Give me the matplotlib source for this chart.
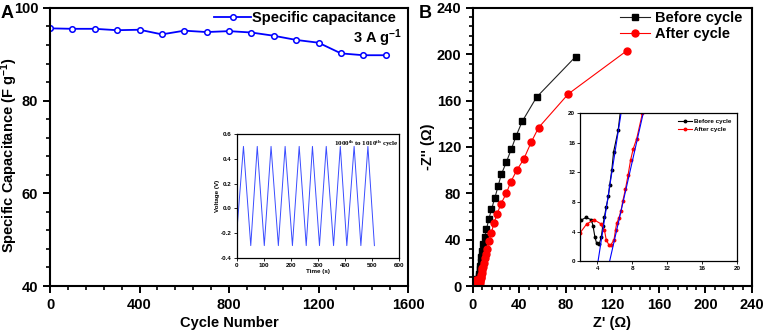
#!/usr/bin/env python3
"""plot.py -- cycling stability (A) and Nyquist plots before/after cycling (B)."""

import numpy as np
import matplotlib
matplotlib.use("Agg")
import matplotlib.pyplot as plt
from matplotlib.ticker import MultipleLocator, FormatStrFormatter

plt.rcParams["font.family"] = ["Liberation Sans", "DejaVu Sans"]
plt.rcParams["font.weight"] = "bold"
plt.rcParams["mathtext.default"] = "regular"
plt.rcParams["axes.unicode_minus"] = False

# ---- Panel A: specific capacitance vs cycle number
cycles = [0, 100, 200, 300, 400, 500, 600, 700, 800, 900, 1000, 1100, 1200, 1300, 1400, 1500]
capac = [95.6, 95.5, 95.5, 95.2, 95.3, 94.3, 95.1, 94.8, 95.0, 94.7, 94.0, 93.1, 92.5, 90.2, 89.8, 89.8]

# inset A: GCD turning points, 1000th-1010th cycle
gcd_t = [0, 25, 52, 76, 102, 127, 154, 179, 206, 231, 257, 280, 306, 331, 358, 383,
         407, 434, 459, 485, 509]
gcd_v = [-0.2, 0.5, -0.3, 0.5, -0.3, 0.5, -0.3, 0.5, -0.3, 0.5, -0.3, 0.5, -0.3, 0.5,
         -0.3, 0.5, -0.3, 0.5, -0.3, 0.5, -0.3]

# ---- Panel B: Nyquist data
before_x = [1.2, 2.07, 2.67, 3.3, 3.5, 3.7, 3.9, 4.2, 4.45, 4.6, 4.8, 5.0, 5.25, 5.4, 5.65,
            5.85, 6.37, 6.7, 7.0, 7.4, 8.8, 10.2, 11.6, 13.6, 15.9, 18.7, 21.6, 24.4, 28.7,
            32.9, 37.2, 42.3, 54.7, 88.3]
before_y = [4.2, 5.5, 5.9, 5.6, 4.7, 3.3, 2.4, 2.3, 3.3, 4.7, 6.0, 7.3, 8.75, 10.3, 12.4,
            14.8, 17.7, 21.0, 25.0, 30.2, 36.0, 42.0, 49.2, 57.6, 66.2, 75.7, 86.3, 96.4, 107.0,
            118.0, 129.8, 142.0, 163.0, 198.0]
after_x = [1.2, 2.0, 2.75, 3.6, 4.45, 4.8, 5.0, 5.3, 5.55, 5.9, 6.07, 6.2, 6.45, 6.7, 6.9,
           7.2, 7.5, 7.8, 8.1, 8.5, 9.15, 10.3, 11.2, 12.2, 13.9, 15.9, 17.9, 20.7, 23.8,
           28.7, 32.3, 37.7, 43.7, 50.0, 56.4, 82.0, 132.2]
after_y = [2.6, 3.8, 5.0, 5.6, 5.0, 4.2, 2.9, 2.2, 2.2, 2.9, 4.2, 5.1, 5.8, 6.8, 8.1,
           9.7, 11.6, 13.7, 15.2, 16.6, 20.0, 24.0, 28.0, 31.7, 39.1, 46.0, 54.1, 61.9, 70.5,
           80.0, 89.5, 100.0, 109.6, 124.0, 136.7, 165.8, 203.0]

# linear fits of the low-frequency tails (inset B)
fit_before_x = [4.07, 6.7]
fit_before_y = [0, 20]
fit_after_x = [5.4, 9.24]
fit_after_y = [0, 20]

C_BLUE = "#0000ff"
C_RED = "#ff0000"
FS = 10.5
FS_IN = 4.5


def style_main(ax):
    for sp in ax.spines.values():
        sp.set_linewidth(1.5)
    ax.tick_params(which="major", direction="out", length=5, width=1.4,
                   labelsize=FS, top=False, right=False)
    ax.tick_params(which="minor", direction="out", length=2.8, width=1.2,
                   top=False, right=False)


def style_inset(ax):
    for sp in ax.spines.values():
        sp.set_linewidth(0.9)
    ax.tick_params(which="major", direction="out", length=2, width=0.6,
                   labelsize=FS_IN, pad=1.5)
    ax.tick_params(which="minor", direction="out", length=1, width=0.5)


fig = plt.figure(figsize=(7.65, 3.33), dpi=100)

# ---------------- Panel A
axA = fig.add_axes([0.0654, 0.1411, 0.468, 0.835])
axA.plot(cycles, capac, color=C_BLUE, lw=1.3, marker="o", ms=4,
         mfc="white", mec=C_BLUE, mew=1.1, label="Specific capacitance")
axA.set_xlim(0, 1600)
axA.set_ylim(40, 100)
axA.xaxis.set_major_locator(MultipleLocator(400))
axA.xaxis.set_minor_locator(MultipleLocator(80))
axA.yaxis.set_major_locator(MultipleLocator(20))
axA.yaxis.set_minor_locator(MultipleLocator(4))
style_main(axA)
axA.set_xlabel("Cycle Number", fontsize=FS, fontweight="bold", labelpad=3)
axA.set_ylabel("Specific Capacitance (F g$^{-1}$)", fontsize=FS, fontweight="bold")
axA.yaxis.set_label_coords(-0.083, 0.47)
axA.legend(loc="upper right", bbox_to_anchor=(0.975, 1.0), frameon=False,
           fontsize=FS, handlelength=2.5, handletextpad=0.1, borderpad=0.2,
           borderaxespad=0)
axA.text(0.983, 0.89, "3 A g$^{-1}$", transform=axA.transAxes, ha="right",
         va="center", fontsize=FS, fontweight="bold")

# inset A
inA = fig.add_axes([0.3094, 0.2252, 0.2122, 0.3724])
inA.plot(gcd_t, gcd_v, color="#3a4cff", lw=0.7)
inA.set_xlim(0, 600)
inA.set_ylim(-0.4, 0.6)
inA.xaxis.set_major_locator(MultipleLocator(100))
inA.yaxis.set_major_locator(MultipleLocator(0.2))
inA.yaxis.set_major_formatter(FormatStrFormatter("%.1f"))
style_inset(inA)
inA.set_xlabel("Time (s)", fontsize=FS_IN, fontweight="bold", labelpad=0.5)
inA.set_ylabel("Voltage (V)", fontsize=FS_IN, fontweight="bold", labelpad=1)
inA.text(0.6, 0.965, "1000$^{th}$ to 1010$^{th}$ cycle", transform=inA.transAxes,
         ha="left", va="top", fontsize=5, family="Liberation Serif", fontweight="bold")

# ---------------- Panel B
axB = fig.add_axes([0.6183, 0.1411, 0.3647, 0.835])
axB.plot(before_x, before_y, color="#222222", lw=0.8, marker="s", ms=4.5,
         mfc="black", mec="black", label="Before cycle")
axB.plot(after_x, after_y, color=C_RED, lw=0.8, marker="o", ms=5,
         mfc=C_RED, mec=C_RED, label="After cycle")
axB.set_xlim(0, 240)
axB.set_ylim(0, 240)
axB.xaxis.set_major_locator(MultipleLocator(40))
axB.xaxis.set_minor_locator(MultipleLocator(8))
axB.yaxis.set_major_locator(MultipleLocator(40))
axB.yaxis.set_minor_locator(MultipleLocator(8))
style_main(axB)
axB.set_xlabel("Z' (Ω)", fontsize=FS, fontweight="bold", labelpad=3)
axB.set_ylabel("-Z'' (Ω)", fontsize=FS, fontweight="bold", labelpad=1)
axB.legend(loc="upper right", bbox_to_anchor=(0.975, 1.0), frameon=False,
           fontsize=FS, handlelength=2.1, handletextpad=0.3, labelspacing=0.15,
           borderpad=0.2, borderaxespad=0)

# inset B
inB = fig.add_axes([0.7582, 0.2162, 0.2052, 0.443])
inB.plot(before_x, before_y, color="black", lw=0.8, marker="o", ms=1.8,
         label="Before cycle")
inB.plot(after_x, after_y, color=C_RED, lw=0.8, marker="o", ms=1.8,
         label="After cycle")
inB.plot(fit_before_x, fit_before_y, color=C_BLUE, lw=0.8)
inB.plot(fit_after_x, fit_after_y, color=C_BLUE, lw=0.8)
inB.set_xlim(2, 20)
inB.set_ylim(0, 20)
inB.xaxis.set_major_locator(MultipleLocator(4))
inB.yaxis.set_major_locator(MultipleLocator(4))
style_inset(inB)
inB.legend(loc="upper right", frameon=False, fontsize=FS_IN, handlelength=2.2,
           handletextpad=0.3, labelspacing=0.4, borderpad=0.4)

fig.text(0.001, 0.985, "A", fontsize=13, fontweight="bold", va="top", ha="left")
fig.text(0.548, 0.985, "B", fontsize=13, fontweight="bold", va="top", ha="left")

fig.savefig("out.png", dpi=100)
plt.close(fig)
